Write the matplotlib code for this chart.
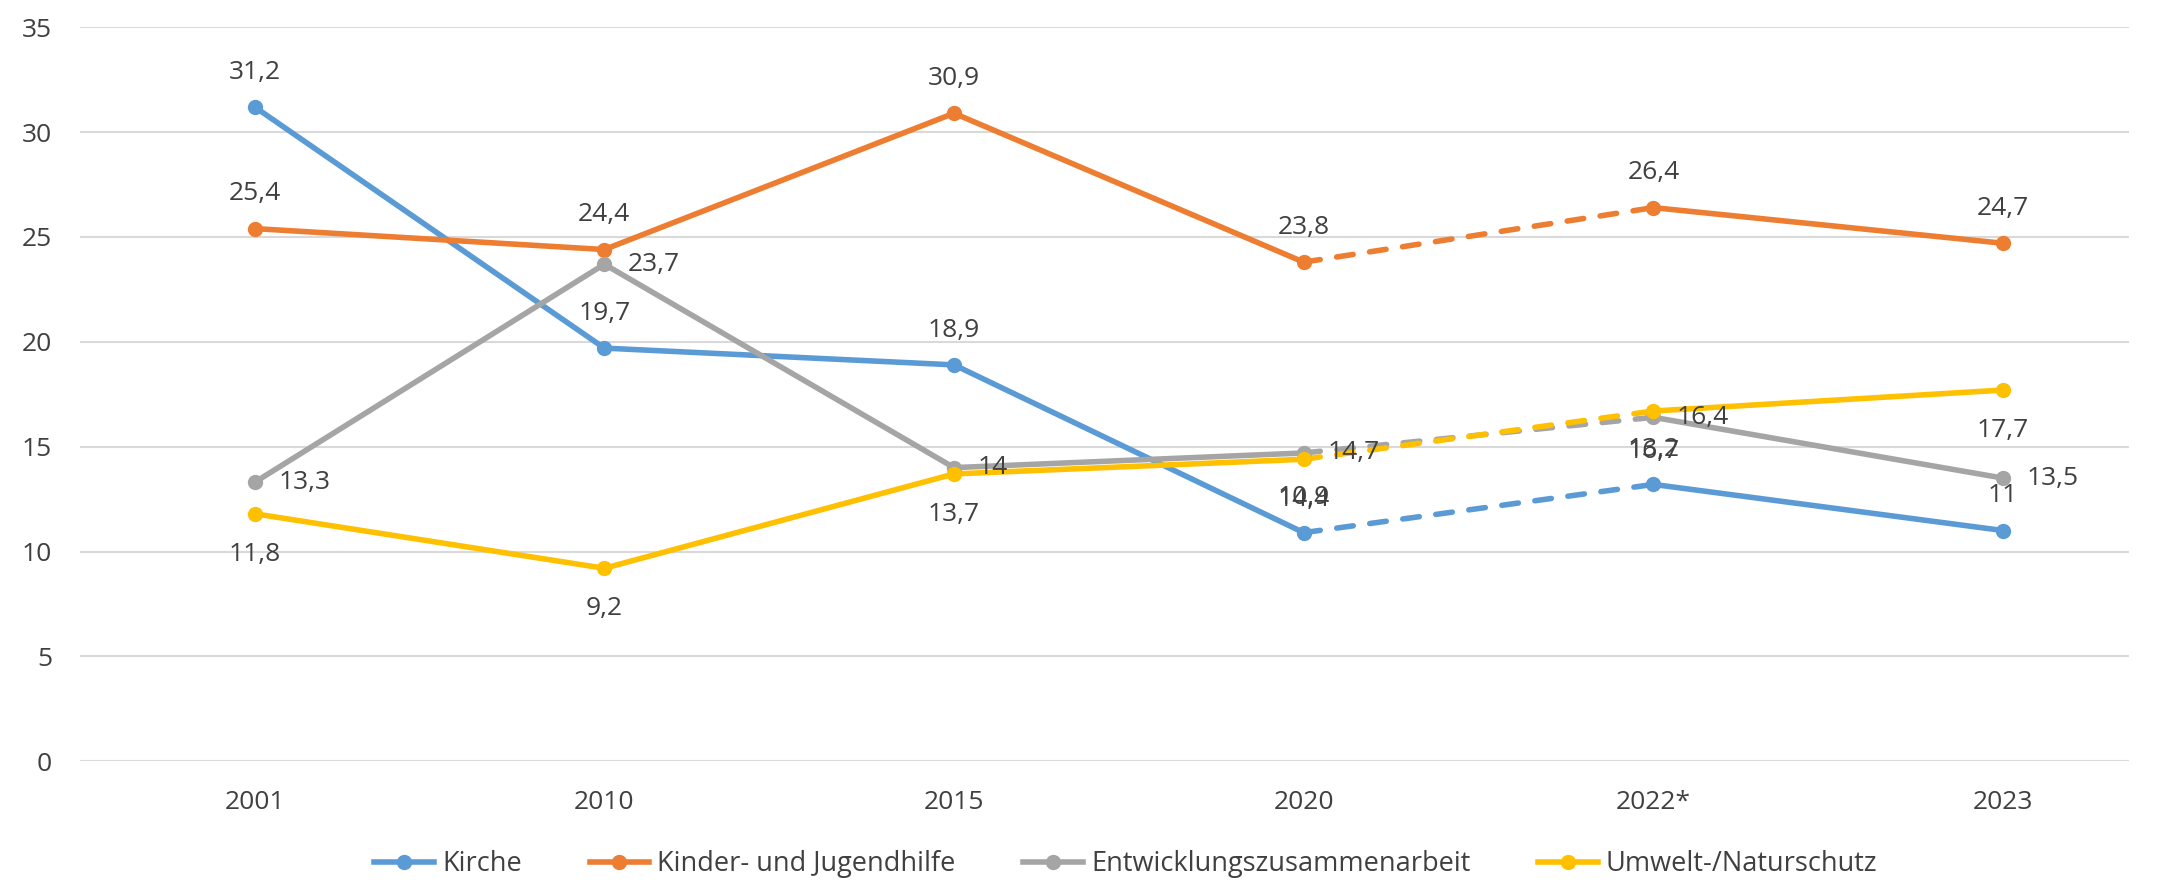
import matplotlib.pyplot as plt
from matplotlib.lines import Line2D

years = ["2001", "2010", "2015", "2020", "2022*", "2023"]
kirche = [31.2, 19.7, 18.9, 10.9, 13.2, 11]
kinder = [25.4, 24.4, 30.9, 23.8, 26.4, 24.7]
entwicklung = [13.3, 23.7, 14, 14.7, 16.4, 13.5]
umwelt = [11.8, 9.2, 13.7, 14.4, 16.7, 17.7]

names = ["Kirche", "Kinder- und Jugendhilfe", "Entwicklungszusammenarbeit",
         "Umwelt-/Naturschutz"]
colors = ["#5B9BD5", "#ED7D31", "#A5A5A5", "#FFC000"]
# label placement per series: above / above / right / below
placement = ["above", "above", "right", "below"]

txt = "#404040"
plt.rcParams['font.family'] = ['Open Sans', 'DejaVu Sans']

fig = plt.figure(figsize=(21.57, 8.8), dpi=100)
ax = fig.add_axes([0.037, 0.135, 0.95, 0.834])

x = list(range(len(years)))
series = [kirche, kinder, entwicklung, umwelt]
for vals, c, pos in zip(series, colors, placement):
    kw = dict(color=c, lw=4, solid_capstyle='round', dash_capstyle='round')
    ax.plot(x[:4], vals[:4], **kw, zorder=3)
    ax.plot(x[3:5], vals[3:5], ls=(0, (3, 3)), **kw, zorder=3)
    ax.plot(x[4:], vals[4:], **kw, zorder=3)
    ax.plot(x, vals, 'o', color=c, ms=10, zorder=4)
    for xi, v in zip(x, vals):
        s = f"{v:g}".replace(".", ",")
        if pos == "above":
            off, ha = (0, 25), 'center'
        elif pos == "below":
            off, ha = (0, -29), 'center'
        else:
            off, ha = (17, 0), 'left'
        ax.annotate(s, (xi, v), xytext=off, textcoords='offset points',
                    ha=ha, va='center', fontsize=19, color=txt, zorder=5)

ax.set_xlim(-0.5, 5.36)
ax.set_ylim(0, 35)
ax.set_yticks(range(0, 36, 5))
ax.set_xticks(x)
ax.set_xticklabels(years)
ax.tick_params(length=0, labelsize=19, labelcolor=txt)
ax.tick_params(axis='x', pad=21)
ax.tick_params(axis='y', pad=20)
ax.grid(axis='y', color='#D9D9D9', lw=1.5)
ax.set_axisbelow(True)
for sp in ax.spines.values():
    sp.set_visible(False)

handles = [Line2D([], [], color=c, lw=4, marker='o', ms=10) for c in colors]
fig.legend(handles, names, loc='center', bbox_to_anchor=(0.522, 0.018), ncol=4,
           frameon=False, fontsize=19.5, labelcolor=txt, handlelength=2.2,
           handletextpad=0.3, columnspacing=2.5)

fig.savefig("out.png", dpi=100)
